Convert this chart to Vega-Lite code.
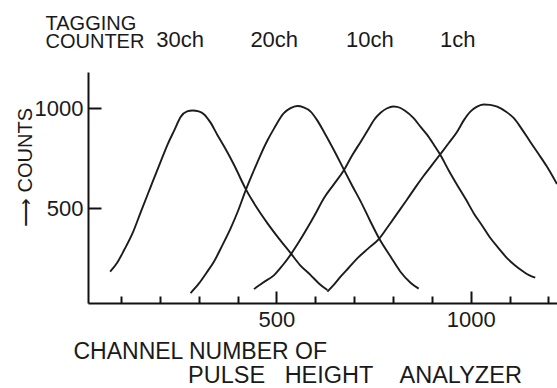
{
  "$schema": "https://vega.github.io/schema/vega-lite/v6.json",
  "width": 469,
  "height": 231,
  "autosize": {"type": "none"},
  "padding": {"left": 88, "top": 72, "right": 0, "bottom": 85},
  "background": "white",
  "title": {
    "text": "PULSE\u00a0\u00a0\u00a0HEIGHT\u00a0\u00a0\u00a0\u00a0ANALYZER",
    "orient": "bottom",
    "anchor": "start",
    "frame": "group",
    "dx": 100,
    "offset": 1,
    "font": "Liberation Sans",
    "fontSize": 23.5,
    "fontWeight": "normal",
    "color": "#1a1a1a"
  },
  "data": {
    "values": [
      {"tag": "30ch", "channel": 72, "counts": 180},
      {"tag": "30ch", "channel": 90, "counts": 225},
      {"tag": "30ch", "channel": 108, "counts": 289},
      {"tag": "30ch", "channel": 130, "counts": 375},
      {"tag": "30ch", "channel": 151, "counts": 481},
      {"tag": "30ch", "channel": 175, "counts": 600},
      {"tag": "30ch", "channel": 202, "counts": 733},
      {"tag": "30ch", "channel": 220, "counts": 820},
      {"tag": "30ch", "channel": 237, "counts": 890},
      {"tag": "30ch", "channel": 254, "counts": 959},
      {"tag": "30ch", "channel": 270, "counts": 985},
      {"tag": "30ch", "channel": 284, "counts": 990},
      {"tag": "30ch", "channel": 300, "counts": 985},
      {"tag": "30ch", "channel": 314, "counts": 970},
      {"tag": "30ch", "channel": 330, "counts": 930},
      {"tag": "30ch", "channel": 348, "counts": 867},
      {"tag": "30ch", "channel": 368, "counts": 800},
      {"tag": "30ch", "channel": 391, "counts": 716},
      {"tag": "30ch", "channel": 421, "counts": 595},
      {"tag": "30ch", "channel": 450, "counts": 500},
      {"tag": "30ch", "channel": 477, "counts": 423},
      {"tag": "30ch", "channel": 505, "counts": 350},
      {"tag": "30ch", "channel": 537, "counts": 272},
      {"tag": "30ch", "channel": 560, "counts": 215},
      {"tag": "30ch", "channel": 588, "counts": 163},
      {"tag": "30ch", "channel": 610, "counts": 120},
      {"tag": "30ch", "channel": 631, "counts": 88},
      {"tag": "20ch", "channel": 279, "counts": 73},
      {"tag": "20ch", "channel": 300, "counts": 120},
      {"tag": "20ch", "channel": 320, "counts": 175},
      {"tag": "20ch", "channel": 339, "counts": 230},
      {"tag": "20ch", "channel": 360, "counts": 310},
      {"tag": "20ch", "channel": 382, "counts": 398},
      {"tag": "20ch", "channel": 400, "counts": 480},
      {"tag": "20ch", "channel": 421, "counts": 590},
      {"tag": "20ch", "channel": 440, "counts": 680},
      {"tag": "20ch", "channel": 459, "counts": 766},
      {"tag": "20ch", "channel": 477, "counts": 840},
      {"tag": "20ch", "channel": 494, "counts": 900},
      {"tag": "20ch", "channel": 519, "counts": 976},
      {"tag": "20ch", "channel": 535, "counts": 1000},
      {"tag": "20ch", "channel": 554, "counts": 1012},
      {"tag": "20ch", "channel": 570, "counts": 1005},
      {"tag": "20ch", "channel": 588, "counts": 984},
      {"tag": "20ch", "channel": 605, "counts": 940},
      {"tag": "20ch", "channel": 622, "counts": 883},
      {"tag": "20ch", "channel": 648, "counts": 790},
      {"tag": "20ch", "channel": 674, "counts": 691},
      {"tag": "20ch", "channel": 695, "counts": 612},
      {"tag": "20ch", "channel": 717, "counts": 532},
      {"tag": "20ch", "channel": 740, "counts": 440},
      {"tag": "20ch", "channel": 764, "counts": 348},
      {"tag": "20ch", "channel": 794, "counts": 255},
      {"tag": "20ch", "channel": 819, "counts": 180},
      {"tag": "20ch", "channel": 845, "counts": 125},
      {"tag": "20ch", "channel": 866, "counts": 95},
      {"tag": "10ch", "channel": 442, "counts": 93},
      {"tag": "10ch", "channel": 465, "counts": 125},
      {"tag": "10ch", "channel": 494, "counts": 163},
      {"tag": "10ch", "channel": 515, "counts": 210},
      {"tag": "10ch", "channel": 537, "counts": 267},
      {"tag": "10ch", "channel": 558, "counts": 330},
      {"tag": "10ch", "channel": 579, "counts": 398},
      {"tag": "10ch", "channel": 600, "counts": 470},
      {"tag": "10ch", "channel": 622, "counts": 549},
      {"tag": "10ch", "channel": 648, "counts": 620},
      {"tag": "10ch", "channel": 674, "counts": 691},
      {"tag": "10ch", "channel": 695, "counts": 765},
      {"tag": "10ch", "channel": 717, "counts": 833},
      {"tag": "10ch", "channel": 735, "counts": 890},
      {"tag": "10ch", "channel": 751, "counts": 942},
      {"tag": "10ch", "channel": 768, "counts": 978},
      {"tag": "10ch", "channel": 785, "counts": 1001},
      {"tag": "10ch", "channel": 800, "counts": 1010},
      {"tag": "10ch", "channel": 811, "counts": 1008},
      {"tag": "10ch", "channel": 830, "counts": 990},
      {"tag": "10ch", "channel": 853, "counts": 951},
      {"tag": "10ch", "channel": 870, "counts": 910},
      {"tag": "10ch", "channel": 888, "counts": 867},
      {"tag": "10ch", "channel": 905, "counts": 818},
      {"tag": "10ch", "channel": 922, "counts": 766},
      {"tag": "10ch", "channel": 943, "counts": 690},
      {"tag": "10ch", "channel": 965, "counts": 616},
      {"tag": "10ch", "channel": 987, "counts": 545},
      {"tag": "10ch", "channel": 1008, "counts": 473},
      {"tag": "10ch", "channel": 1030, "counts": 410},
      {"tag": "10ch", "channel": 1051, "counts": 348},
      {"tag": "10ch", "channel": 1073, "counts": 295},
      {"tag": "10ch", "channel": 1094, "counts": 247},
      {"tag": "10ch", "channel": 1115, "counts": 210},
      {"tag": "10ch", "channel": 1136, "counts": 180},
      {"tag": "10ch", "channel": 1150, "counts": 163},
      {"tag": "10ch", "channel": 1166, "counts": 150},
      {"tag": "1ch", "channel": 631, "counts": 80},
      {"tag": "1ch", "channel": 648, "counts": 115},
      {"tag": "1ch", "channel": 665, "counts": 155},
      {"tag": "1ch", "channel": 686, "counts": 200},
      {"tag": "1ch", "channel": 708, "counts": 247},
      {"tag": "1ch", "channel": 735, "counts": 295},
      {"tag": "1ch", "channel": 764, "counts": 345},
      {"tag": "1ch", "channel": 790, "counts": 415},
      {"tag": "1ch", "channel": 811, "counts": 473},
      {"tag": "1ch", "channel": 837, "counts": 545},
      {"tag": "1ch", "channel": 858, "counts": 605},
      {"tag": "1ch", "channel": 879, "counts": 662},
      {"tag": "1ch", "channel": 900, "counts": 715},
      {"tag": "1ch", "channel": 920, "counts": 766},
      {"tag": "1ch", "channel": 943, "counts": 825},
      {"tag": "1ch", "channel": 965, "counts": 883},
      {"tag": "1ch", "channel": 982, "counts": 940},
      {"tag": "1ch", "channel": 999, "counts": 984},
      {"tag": "1ch", "channel": 1015, "counts": 1008},
      {"tag": "1ch", "channel": 1033, "counts": 1020},
      {"tag": "1ch", "channel": 1050, "counts": 1018},
      {"tag": "1ch", "channel": 1068, "counts": 1009},
      {"tag": "1ch", "channel": 1090, "counts": 985},
      {"tag": "1ch", "channel": 1111, "counts": 951},
      {"tag": "1ch", "channel": 1132, "counts": 895},
      {"tag": "1ch", "channel": 1153, "counts": 833},
      {"tag": "1ch", "channel": 1175, "counts": 770},
      {"tag": "1ch", "channel": 1196, "counts": 708},
      {"tag": "1ch", "channel": 1222, "counts": 620}
    ]
  },
  "layer": [
    {
      "mark": {"type": "line", "interpolate": "monotone", "color": "#1c1c1c", "strokeWidth": 1.9, "clip": true},
      "encoding": {
        "x": {
          "field": "channel", "type": "quantitative",
          "scale": {"domain": [15, 1222], "nice": false, "zero": false},
          "axis": {
            "orient": "bottom",
            "values": [100, 200, 300, 400, 500, 600, 700, 800, 900, 1000, 1100, 1200],
            "tickSize": {"condition": {"test": "datum.value % 500 === 0", "value": -12}, "value": -7},
            "labelExpr": "datum.value % 500 === 0 ? format(datum.value, 'd') : ''",
            "labelPadding": 18,
            "title": "CHANNEL NUMBER OF",
            "titleAlign": "left",
            "titleBaseline": "alphabetic",
            "titleX": -15,
            "titleY": 55
          }
        },
        "y": {
          "field": "counts", "type": "quantitative",
          "scale": {"domain": [23, 1183], "nice": false, "zero": false},
          "axis": {
            "values": [500, 1000],
            "format": "d",
            "tickSize": -13,
            "labelPadding": 18,
            "title": "⟶ COUNTS",
            "titleFont": "Liberation Sans",
            "titleFontSize": 20,
            "titleAngle": -90,
            "titleAlign": "center",
            "titleBaseline": "middle",
            "titleX": -63,
            "titleY": 95
          }
        },
        "detail": {"field": "tag"}
      }
    },
    {
      "mark": {"type": "line", "opacity": 0},
      "encoding": {
        "x": {
          "field": "channel", "type": "quantitative",
          "axis": {
            "orient": "top",
            "values": [251, 493, 739, 965],
            "labelExpr": "datum.value < 300 ? '30ch' : datum.value < 600 ? '20ch' : datum.value < 850 ? '10ch' : '1ch'",
            "domain": false,
            "ticks": false,
            "tickSize": 0,
            "labelPadding": 26,
            "labelBaseline": "alphabetic",
            "labelFontSize": 22,
            "title": ["TAGGING", "COUNTER"],
            "titleFontSize": 20,
            "titleLineHeight": 18,
            "titleAlign": "left",
            "titleBaseline": "alphabetic",
            "titleX": -43,
            "titleY": -43
          }
        },
        "y": {"field": "counts", "type": "quantitative", "axis": null},
        "detail": {"field": "tag"}
      }
    }
  ],
  "resolve": {"axis": {"x": "independent", "y": "independent"}},
  "config": {
    "view": {"stroke": null},
    "axis": {
      "grid": false,
      "domainColor": "#111",
      "domainWidth": 2,
      "tickColor": "#111",
      "tickWidth": 2,
      "labelFont": "Liberation Sans",
      "labelFontSize": 22,
      "labelColor": "#1a1a1a",
      "labelFlush": false,
      "labelOverlap": false,
      "titleFont": "Liberation Sans",
      "titleFontSize": 23,
      "titleFontWeight": "normal",
      "titleColor": "#1a1a1a"
    }
  }
}
